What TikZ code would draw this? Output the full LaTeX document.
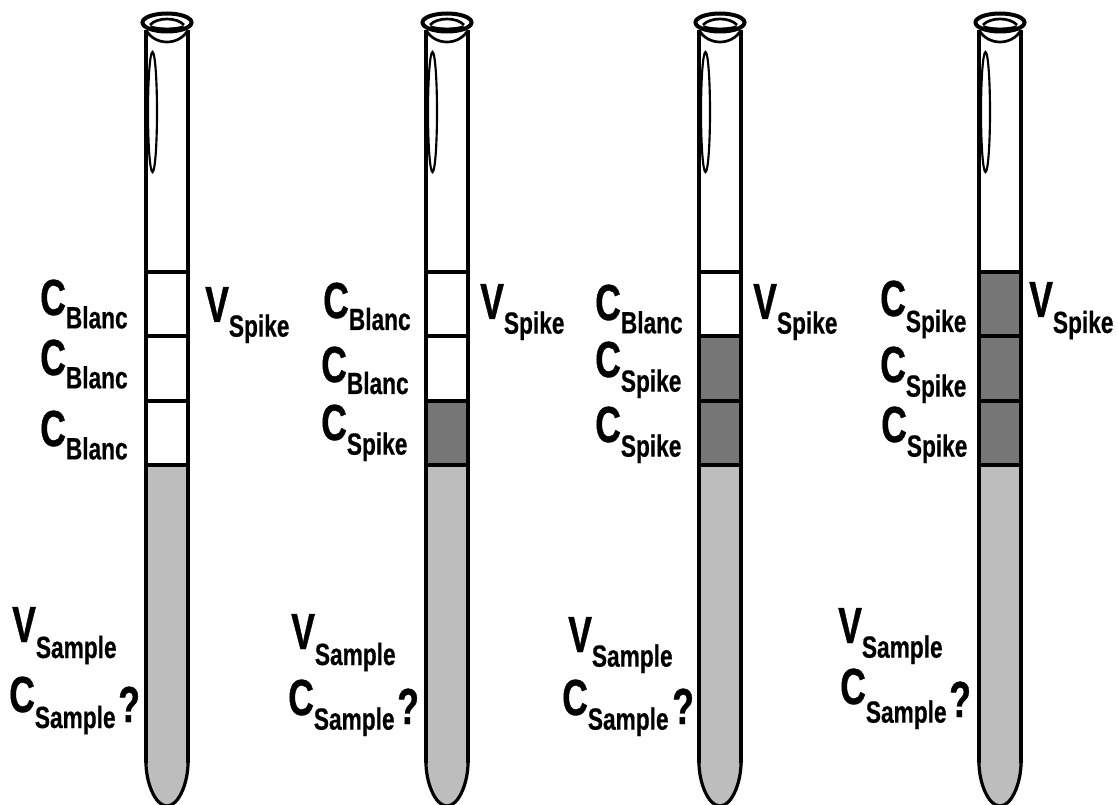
\documentclass[tikz,border=0pt]{standalone}
\usepackage{fontspec}
\setsansfont{Liberation Sans}[FakeStretch=0.74,BoldFeatures={FakeBold=0.5}]
\newfontfamily\bigletter{Liberation Sans}[FakeStretch=0.70,BoldFeatures={FakeBold=0.8}]
\usepackage{xcolor}
\usetikzlibrary{positioning}
\definecolor{samplegray}{HTML}{BDBDBD}
\definecolor{spikegray}{HTML}{767676}
\newcommand{\lowlabel}[2][11pt]{\raisebox{-#1}{\fontsize{23}{23}\selectfont\sffamily\bfseries #2}}

\begin{document}
\begin{tikzpicture}[
    x=0.75pt, y=-0.75pt,
    label/.style={anchor=base west, inner sep=0pt, font=\fontsize{38}{38}\selectfont\bigletter\bfseries},
    wall/.style={draw=black, line width=3pt},
    band/.style={line width=3.4pt},
    glass/.style={draw=black, line width=1.5pt}
]
    \useasboundingbox (0,0) rectangle (1118,805);

    % Tubes: centre / colours of the three spike layers
    \foreach \cx/\colA/\colB/\colC in {167/white/white/white, 447/white/white/spikegray, 720/white/spikegray/spikegray, 1000/spikegray/spikegray/spikegray} {
        \begin{scope}[shift={(\cx,0)}]
            % Layers
            \fill[\colA] (-21,272) rectangle (21,336);
            \fill[\colB] (-21,336) rectangle (21,401);
            \fill[\colC] (-21,401) rectangle (21,465);
            \fill[samplegray] (-21,465) -- (21,465) -- (21,763) .. controls (21,782) and (12,806) .. (0,806) .. controls (-12,806) and (-21,782) .. (-21,763) -- cycle;
            % Walls
            \draw[wall] (-21,30) -- (-21,763);
            \draw[wall] (21,30) -- (21,763);
            \draw[glass, line width=2.4pt] (-21,763) .. controls (-21,782) and (-12,806) .. (0,806) .. controls (12,806) and (21,782) .. (21,763);
            \draw[band] (-21,272) -- (21,272);
            \draw[band] (-21,336) -- (21,336);
            \draw[band] (-21,401) -- (21,401);
            \draw[band] (-21,465) -- (21,465);
            % Rim and reflection
            \draw[glass, line width=3pt] (0,22.5) ellipse [x radius=24.5, y radius=9];
            \draw[glass, line width=2pt] (-17,25) .. controls (-10,17) and (10,17) .. (17,25);
            \draw[glass, line width=4pt] (-17,28) .. controls (-8,31) and (8,31) .. (17,28);
            \draw[glass, line width=2pt] (-21,30) .. controls (-12,46) and (12,46) .. (21,30);
            \draw[glass, line width=1.6pt] (-14.5,112) ellipse [x radius=4.5, y radius=60];
        \end{scope}
    }

    % First tube
    \node[label] (c1a) at (40,315) {C\lowlabel[10pt]{Blanc}};
    \node[label] (c1b) at (40,375) {C\lowlabel[10pt]{Blanc}};
    \node[label] (c1c) at (40,446) {C\lowlabel[10pt]{Blanc}};
    \node[label] (v1) at (205,322) {V\lowlabel{Spike}};
    \node[label] (vs1) at (12,642) {V\lowlabel[12pt]{Sample}};
    \node[label] (cs1) at (9,712) {C\lowlabel[12pt]{Sample}};
    \node[label] (q1) at (118,722) {?};

    % Second tube
    \node[label] (c2a) at (323,318) {C\lowlabel[9pt]{Blanc}};
    \node[label] (c2b) at (321,382) {C\lowlabel[9pt]{Blanc}};
    \node[label] (c2c) at (321,440) {C\lowlabel{Spike}};
    \node[label] (v2) at (480,319) {V\lowlabel{Spike}};
    \node[label] (vs2) at (291,649) {V\lowlabel[12pt]{Sample}};
    \node[label] (cs2) at (288,715) {C\lowlabel{Sample}};
    \node[label] (q2) at (397,724) {?};

    % Third tube
    \node[label] (c3a) at (595,320) {C\lowlabel[10pt]{Blanc}};
    \node[label] (c3b) at (595,377) {C\lowlabel{Spike}};
    \node[label] (c3c) at (595,442) {C\lowlabel{Spike}};
    \node[label] (v3) at (753,319) {V\lowlabel{Spike}};
    \node[label] (vs3) at (568,652) {V\lowlabel{Sample}};
    \node[label] (cs3) at (562,715) {C\lowlabel{Sample}};
    \node[label] (q3) at (672,724) {?};

    % Fourth tube
    \node[label] (c4a) at (880,316) {C\lowlabel[12pt]{Spike}};
    \node[label] (c4b) at (880,382) {C\lowlabel{Spike}};
    \node[label] (c4c) at (881,442) {C\lowlabel{Spike}};
    \node[label] (v4) at (1029,317) {V\lowlabel[12pt]{Spike}};
    \node[label] (vs4) at (838,643) {V\lowlabel{Sample}};
    \node[label] (cs4) at (840,704) {C\lowlabel[14pt]{Sample}};
    \node[label] (q4) at (949,717) {?};
\end{tikzpicture}
\end{document}
